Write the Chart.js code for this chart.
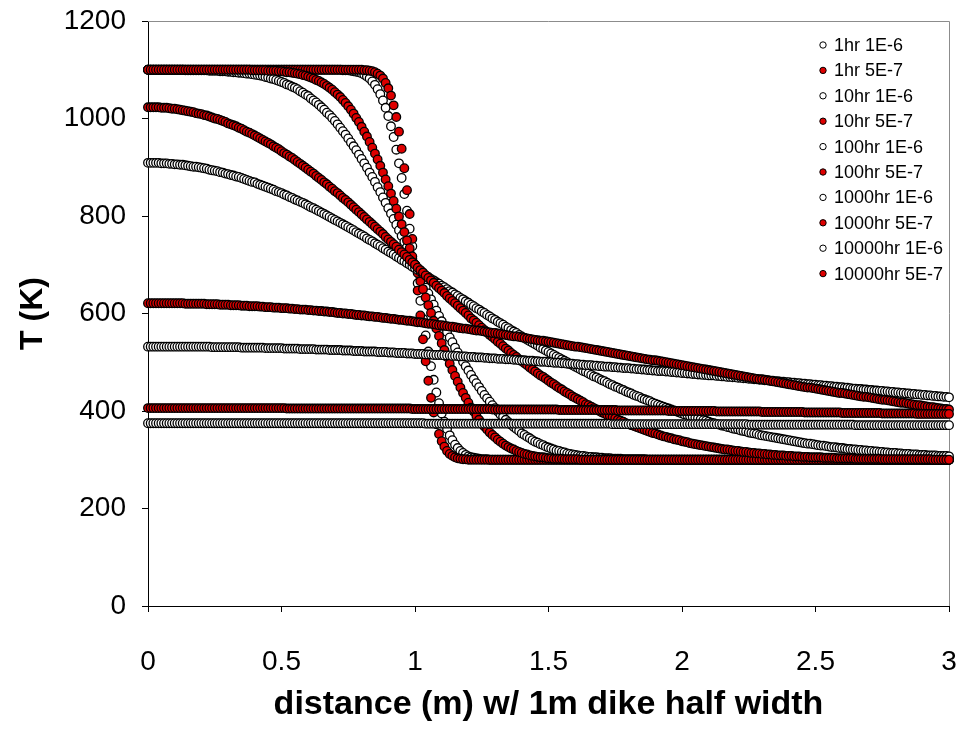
<!DOCTYPE html>
<html>
<head>
<meta charset="utf-8">
<title>Dike cooling profiles</title>
<script src="https://cdn.jsdelivr.net/npm/chart.js@4.4.1/dist/chart.umd.min.js"></script>
<style>
  body { margin: 0; background: #fff; }
  #wrap { width: 961px; height: 729px; }
</style>
</head>
<body>
<div id="wrap"><canvas id="chart" width="961" height="729"></canvas></div>
<script>
// distance from the dike centre (m), one sample every cm
var distance = [
  0, 0.01, 0.02, 0.03, 0.04, 0.05, 0.06, 0.07, 0.08, 0.09,
  0.1, 0.11, 0.12, 0.13, 0.14, 0.15, 0.16, 0.17, 0.18, 0.19,
  0.2, 0.21, 0.22, 0.23, 0.24, 0.25, 0.26, 0.27, 0.28, 0.29,
  0.3, 0.31, 0.32, 0.33, 0.34, 0.35, 0.36, 0.37, 0.38, 0.39,
  0.4, 0.41, 0.42, 0.43, 0.44, 0.45, 0.46, 0.47, 0.48, 0.49,
  0.5, 0.51, 0.52, 0.53, 0.54, 0.55, 0.56, 0.57, 0.58, 0.59,
  0.6, 0.61, 0.62, 0.63, 0.64, 0.65, 0.66, 0.67, 0.68, 0.69,
  0.7, 0.71, 0.72, 0.73, 0.74, 0.75, 0.76, 0.77, 0.78, 0.79,
  0.8, 0.81, 0.82, 0.83, 0.84, 0.85, 0.86, 0.87, 0.88, 0.89,
  0.9, 0.91, 0.92, 0.93, 0.94, 0.95, 0.96, 0.97, 0.98, 0.99,
  1, 1.01, 1.02, 1.03, 1.04, 1.05, 1.06, 1.07, 1.08, 1.09,
  1.1, 1.11, 1.12, 1.13, 1.14, 1.15, 1.16, 1.17, 1.18, 1.19,
  1.2, 1.21, 1.22, 1.23, 1.24, 1.25, 1.26, 1.27, 1.28, 1.29,
  1.3, 1.31, 1.32, 1.33, 1.34, 1.35, 1.36, 1.37, 1.38, 1.39,
  1.4, 1.41, 1.42, 1.43, 1.44, 1.45, 1.46, 1.47, 1.48, 1.49,
  1.5, 1.51, 1.52, 1.53, 1.54, 1.55, 1.56, 1.57, 1.58, 1.59,
  1.6, 1.61, 1.62, 1.63, 1.64, 1.65, 1.66, 1.67, 1.68, 1.69,
  1.7, 1.71, 1.72, 1.73, 1.74, 1.75, 1.76, 1.77, 1.78, 1.79,
  1.8, 1.81, 1.82, 1.83, 1.84, 1.85, 1.86, 1.87, 1.88, 1.89,
  1.9, 1.91, 1.92, 1.93, 1.94, 1.95, 1.96, 1.97, 1.98, 1.99,
  2, 2.01, 2.02, 2.03, 2.04, 2.05, 2.06, 2.07, 2.08, 2.09,
  2.1, 2.11, 2.12, 2.13, 2.14, 2.15, 2.16, 2.17, 2.18, 2.19,
  2.2, 2.21, 2.22, 2.23, 2.24, 2.25, 2.26, 2.27, 2.28, 2.29,
  2.3, 2.31, 2.32, 2.33, 2.34, 2.35, 2.36, 2.37, 2.38, 2.39,
  2.4, 2.41, 2.42, 2.43, 2.44, 2.45, 2.46, 2.47, 2.48, 2.49,
  2.5, 2.51, 2.52, 2.53, 2.54, 2.55, 2.56, 2.57, 2.58, 2.59,
  2.6, 2.61, 2.62, 2.63, 2.64, 2.65, 2.66, 2.67, 2.68, 2.69,
  2.7, 2.71, 2.72, 2.73, 2.74, 2.75, 2.76, 2.77, 2.78, 2.79,
  2.8, 2.81, 2.82, 2.83, 2.84, 2.85, 2.86, 2.87, 2.88, 2.89,
  2.9, 2.91, 2.92, 2.93, 2.94, 2.95, 2.96, 2.97, 2.98, 2.99,
  3
];

// temperature (K) after 1 hr, kappa = 1E-6
var hr1_1e6 = [
  1100, 1100, 1100, 1100, 1100, 1100, 1100, 1100, 1100, 1100,
  1100, 1100, 1100, 1100, 1100, 1100, 1100, 1100, 1100, 1100,
  1100, 1100, 1100, 1100, 1100, 1100, 1100, 1100, 1100, 1100,
  1100, 1100, 1100, 1100, 1100, 1100, 1100, 1100, 1100, 1100,
  1100, 1100, 1100, 1100, 1100, 1100, 1100, 1100, 1100, 1100,
  1100, 1100, 1100, 1100, 1100, 1100, 1100, 1100, 1100, 1100,
  1100, 1100, 1100, 1100, 1100, 1100, 1100, 1100, 1100, 1100,
  1100, 1100, 1100, 1099, 1099, 1099, 1098, 1097, 1096, 1095,
  1093, 1090, 1086, 1082, 1076, 1069, 1060, 1050, 1037, 1022,
  1005, 984, 962, 936, 908, 878, 845, 811, 774, 738,
  700, 662, 626, 589, 555, 522, 492, 464, 438, 416,
  395, 378, 363, 350, 340, 331, 324, 318, 314, 310,
  307, 305, 304, 303, 302, 301, 301, 301, 300, 300,
  300, 300, 300, 300, 300, 300, 300, 300, 300, 300,
  300, 300, 300, 300, 300, 300, 300, 300, 300, 300,
  300, 300, 300, 300, 300, 300, 300, 300, 300, 300,
  300, 300, 300, 300, 300, 300, 300, 300, 300, 300,
  300, 300, 300, 300, 300, 300, 300, 300, 300, 300,
  300, 300, 300, 300, 300, 300, 300, 300, 300, 300,
  300, 300, 300, 300, 300, 300, 300, 300, 300, 300,
  300, 300, 300, 300, 300, 300, 300, 300, 300, 300,
  300, 300, 300, 300, 300, 300, 300, 300, 300, 300,
  300, 300, 300, 300, 300, 300, 300, 300, 300, 300,
  300, 300, 300, 300, 300, 300, 300, 300, 300, 300,
  300, 300, 300, 300, 300, 300, 300, 300, 300, 300,
  300, 300, 300, 300, 300, 300, 300, 300, 300, 300,
  300, 300, 300, 300, 300, 300, 300, 300, 300, 300,
  300, 300, 300, 300, 300, 300, 300, 300, 300, 300,
  300, 300, 300, 300, 300, 300, 300, 300, 300, 300,
  300, 300, 300, 300, 300, 300, 300, 300, 300, 300,
  300
];

// 1 hr, kappa = 5E-7
var hr1_5e7 = [
  1100, 1100, 1100, 1100, 1100, 1100, 1100, 1100, 1100, 1100,
  1100, 1100, 1100, 1100, 1100, 1100, 1100, 1100, 1100, 1100,
  1100, 1100, 1100, 1100, 1100, 1100, 1100, 1100, 1100, 1100,
  1100, 1100, 1100, 1100, 1100, 1100, 1100, 1100, 1100, 1100,
  1100, 1100, 1100, 1100, 1100, 1100, 1100, 1100, 1100, 1100,
  1100, 1100, 1100, 1100, 1100, 1100, 1100, 1100, 1100, 1100,
  1100, 1100, 1100, 1100, 1100, 1100, 1100, 1100, 1100, 1100,
  1100, 1100, 1100, 1100, 1100, 1100, 1100, 1100, 1100, 1100,
  1100, 1099, 1099, 1098, 1097, 1095, 1092, 1088, 1082, 1073,
  1062, 1047, 1027, 1003, 973, 938, 898, 853, 804, 753,
  700, 647, 596, 547, 502, 462, 427, 397, 373, 353,
  338, 327, 318, 312, 308, 305, 303, 302, 301, 301,
  300, 300, 300, 300, 300, 300, 300, 300, 300, 300,
  300, 300, 300, 300, 300, 300, 300, 300, 300, 300,
  300, 300, 300, 300, 300, 300, 300, 300, 300, 300,
  300, 300, 300, 300, 300, 300, 300, 300, 300, 300,
  300, 300, 300, 300, 300, 300, 300, 300, 300, 300,
  300, 300, 300, 300, 300, 300, 300, 300, 300, 300,
  300, 300, 300, 300, 300, 300, 300, 300, 300, 300,
  300, 300, 300, 300, 300, 300, 300, 300, 300, 300,
  300, 300, 300, 300, 300, 300, 300, 300, 300, 300,
  300, 300, 300, 300, 300, 300, 300, 300, 300, 300,
  300, 300, 300, 300, 300, 300, 300, 300, 300, 300,
  300, 300, 300, 300, 300, 300, 300, 300, 300, 300,
  300, 300, 300, 300, 300, 300, 300, 300, 300, 300,
  300, 300, 300, 300, 300, 300, 300, 300, 300, 300,
  300, 300, 300, 300, 300, 300, 300, 300, 300, 300,
  300, 300, 300, 300, 300, 300, 300, 300, 300, 300,
  300, 300, 300, 300, 300, 300, 300, 300, 300, 300,
  300, 300, 300, 300, 300, 300, 300, 300, 300, 300,
  300
];

// 10 hr, kappa = 1E-6
var hr10_1e6 = [
  1100, 1100, 1100, 1100, 1100, 1100, 1100, 1100, 1100, 1100,
  1100, 1100, 1100, 1100, 1099, 1099, 1099, 1099, 1099, 1099,
  1099, 1099, 1099, 1098, 1098, 1098, 1098, 1097, 1097, 1097,
  1096, 1096, 1095, 1095, 1094, 1094, 1093, 1092, 1092, 1091,
  1090, 1089, 1088, 1087, 1085, 1084, 1082, 1081, 1079, 1077,
  1075, 1073, 1070, 1068, 1065, 1063, 1060, 1056, 1053, 1049,
  1046, 1041, 1037, 1033, 1028, 1023, 1018, 1012, 1007, 1001,
  995, 988, 981, 974, 967, 959, 951, 943, 935, 926,
  917, 908, 899, 889, 880, 870, 859, 849, 838, 827,
  816, 805, 794, 782, 771, 759, 747, 736, 724, 712,
  700, 688, 676, 664, 653, 641, 629, 618, 606, 595,
  584, 573, 562, 551, 541, 530, 520, 511, 501, 492,
  483, 474, 465, 457, 449, 441, 433, 426, 419, 412,
  406, 399, 393, 388, 382, 377, 372, 367, 363, 359,
  354, 351, 347, 344, 340, 337, 335, 332, 330, 327,
  325, 323, 321, 319, 318, 316, 315, 313, 312, 311,
  310, 309, 308, 308, 307, 306, 306, 305, 305, 304,
  304, 303, 303, 303, 302, 302, 302, 302, 301, 301,
  301, 301, 301, 301, 301, 301, 301, 300, 300, 300,
  300, 300, 300, 300, 300, 300, 300, 300, 300, 300,
  300, 300, 300, 300, 300, 300, 300, 300, 300, 300,
  300, 300, 300, 300, 300, 300, 300, 300, 300, 300,
  300, 300, 300, 300, 300, 300, 300, 300, 300, 300,
  300, 300, 300, 300, 300, 300, 300, 300, 300, 300,
  300, 300, 300, 300, 300, 300, 300, 300, 300, 300,
  300, 300, 300, 300, 300, 300, 300, 300, 300, 300,
  300, 300, 300, 300, 300, 300, 300, 300, 300, 300,
  300, 300, 300, 300, 300, 300, 300, 300, 300, 300,
  300, 300, 300, 300, 300, 300, 300, 300, 300, 300,
  300, 300, 300, 300, 300, 300, 300, 300, 300, 300,
  300
];

// 10 hr, kappa = 5E-7
var hr10_5e7 = [
  1100, 1100, 1100, 1100, 1100, 1100, 1100, 1100, 1100, 1100,
  1100, 1100, 1100, 1100, 1100, 1100, 1100, 1100, 1100, 1100,
  1100, 1100, 1100, 1100, 1100, 1100, 1100, 1100, 1100, 1100,
  1100, 1100, 1100, 1100, 1100, 1100, 1100, 1100, 1100, 1099,
  1099, 1099, 1099, 1099, 1099, 1098, 1098, 1098, 1098, 1097,
  1097, 1096, 1095, 1095, 1094, 1093, 1092, 1091, 1089, 1088,
  1086, 1084, 1082, 1079, 1077, 1074, 1071, 1067, 1063, 1059,
  1054, 1049, 1044, 1038, 1032, 1025, 1018, 1010, 1001, 993,
  983, 973, 963, 952, 940, 928, 916, 903, 889, 875,
  861, 846, 831, 815, 799, 783, 767, 750, 734, 717,
  700, 683, 666, 650, 633, 617, 601, 585, 569, 554,
  539, 525, 511, 497, 484, 472, 460, 448, 437, 427,
  417, 407, 399, 390, 382, 375, 368, 362, 356, 351,
  346, 341, 337, 333, 329, 326, 323, 321, 318, 316,
  314, 312, 311, 309, 308, 307, 306, 305, 305, 304,
  303, 303, 302, 302, 302, 302, 301, 301, 301, 301,
  301, 301, 300, 300, 300, 300, 300, 300, 300, 300,
  300, 300, 300, 300, 300, 300, 300, 300, 300, 300,
  300, 300, 300, 300, 300, 300, 300, 300, 300, 300,
  300, 300, 300, 300, 300, 300, 300, 300, 300, 300,
  300, 300, 300, 300, 300, 300, 300, 300, 300, 300,
  300, 300, 300, 300, 300, 300, 300, 300, 300, 300,
  300, 300, 300, 300, 300, 300, 300, 300, 300, 300,
  300, 300, 300, 300, 300, 300, 300, 300, 300, 300,
  300, 300, 300, 300, 300, 300, 300, 300, 300, 300,
  300, 300, 300, 300, 300, 300, 300, 300, 300, 300,
  300, 300, 300, 300, 300, 300, 300, 300, 300, 300,
  300, 300, 300, 300, 300, 300, 300, 300, 300, 300,
  300, 300, 300, 300, 300, 300, 300, 300, 300, 300,
  300, 300, 300, 300, 300, 300, 300, 300, 300, 300,
  300
];

// 100 hr, kappa = 1E-6
var hr100_1e6 = [
  909, 909, 909, 909, 909, 908, 908, 908, 907, 907,
  906, 906, 905, 905, 904, 903, 902, 901, 901, 900,
  899, 898, 897, 895, 894, 893, 892, 890, 889, 887,
  886, 884, 883, 881, 880, 878, 876, 874, 872, 870,
  869, 866, 864, 862, 860, 858, 856, 854, 851, 849,
  847, 844, 842, 839, 837, 834, 832, 829, 827, 824,
  821, 818, 816, 813, 810, 807, 804, 801, 798, 795,
  792, 789, 786, 783, 780, 777, 774, 771, 767, 764,
  761, 758, 754, 751, 748, 744, 741, 738, 734, 731,
  727, 724, 721, 717, 714, 710, 707, 703, 700, 696,
  693, 689, 686, 682, 678, 675, 671, 668, 664, 661,
  657, 654, 650, 646, 643, 639, 636, 632, 629, 625,
  622, 618, 615, 611, 608, 604, 601, 597, 594, 590,
  587, 583, 580, 577, 573, 570, 566, 563, 560, 556,
  553, 550, 546, 543, 540, 537, 534, 530, 527, 524,
  521, 518, 515, 512, 509, 506, 503, 500, 497, 494,
  491, 488, 485, 482, 480, 477, 474, 471, 469, 466,
  463, 461, 458, 455, 453, 450, 448, 445, 443, 440,
  438, 436, 433, 431, 429, 426, 424, 422, 420, 417,
  415, 413, 411, 409, 407, 405, 403, 401, 399, 397,
  395, 393, 392, 390, 388, 386, 385, 383, 381, 380,
  378, 376, 375, 373, 372, 370, 369, 367, 366, 364,
  363, 362, 360, 359, 358, 356, 355, 354, 353, 351,
  350, 349, 348, 347, 346, 345, 344, 343, 342, 341,
  340, 339, 338, 337, 336, 335, 334, 333, 333, 332,
  331, 330, 329, 329, 328, 327, 326, 326, 325, 324,
  324, 323, 322, 322, 321, 321, 320, 320, 319, 319,
  318, 318, 317, 317, 316, 316, 315, 315, 314, 314,
  314, 313, 313, 312, 312, 312, 311, 311, 311, 310,
  310, 310, 309, 309, 309, 309, 308, 308, 308, 308,
  307
];

// 100 hr, kappa = 5E-7
var hr100_5e7 = [
  1023, 1023, 1023, 1023, 1023, 1022, 1022, 1022, 1021, 1020,
  1020, 1019, 1018, 1017, 1016, 1015, 1014, 1013, 1011, 1010,
  1009, 1007, 1006, 1004, 1002, 1000, 999, 997, 995, 993,
  990, 988, 986, 984, 981, 979, 976, 973, 971, 968,
  965, 962, 959, 956, 953, 950, 947, 943, 940, 937,
  933, 929, 926, 922, 919, 915, 911, 907, 903, 899,
  895, 891, 887, 882, 878, 874, 869, 865, 860, 856,
  851, 847, 842, 837, 833, 828, 823, 818, 813, 808,
  803, 798, 793, 788, 783, 778, 773, 768, 763, 757,
  752, 747, 742, 737, 731, 726, 721, 716, 710, 705,
  700, 694, 689, 684, 678, 673, 668, 663, 657, 652,
  647, 642, 636, 631, 626, 621, 616, 611, 606, 601,
  596, 590, 586, 581, 576, 571, 566, 561, 556, 552,
  547, 542, 538, 533, 528, 524, 519, 515, 511, 506,
  502, 498, 494, 489, 485, 481, 477, 473, 470, 466,
  462, 458, 455, 451, 447, 444, 440, 437, 434, 430,
  427, 424, 421, 418, 414, 412, 409, 406, 403, 400,
  397, 395, 392, 390, 387, 385, 382, 380, 378, 375,
  373, 371, 369, 367, 365, 363, 361, 359, 357, 355,
  354, 352, 350, 348, 347, 345, 344, 342, 341, 340,
  338, 337, 336, 334, 333, 332, 331, 330, 329, 328,
  327, 326, 325, 324, 323, 322, 321, 321, 320, 319,
  318, 318, 317, 316, 316, 315, 314, 314, 313, 313,
  312, 312, 311, 311, 310, 310, 309, 309, 309, 308,
  308, 308, 307, 307, 307, 306, 306, 306, 305, 305,
  305, 305, 305, 304, 304, 304, 304, 304, 303, 303,
  303, 303, 303, 303, 303, 302, 302, 302, 302, 302,
  302, 302, 302, 302, 302, 301, 301, 301, 301, 301,
  301, 301, 301, 301, 301, 301, 301, 301, 301, 301,
  301, 301, 301, 301, 300, 300, 300, 300, 300, 300,
  300
];

// 1000 hr, kappa = 1E-6
var hr1000_1e6 = [
  532, 532, 532, 532, 532, 532, 532, 532, 532, 532,
  532, 532, 532, 532, 532, 532, 532, 532, 532, 532,
  532, 532, 532, 532, 531, 531, 531, 531, 531, 531,
  531, 531, 531, 531, 531, 530, 530, 530, 530, 530,
  530, 530, 530, 530, 529, 529, 529, 529, 529, 529,
  529, 528, 528, 528, 528, 528, 528, 527, 527, 527,
  527, 527, 527, 526, 526, 526, 526, 526, 525, 525,
  525, 525, 525, 524, 524, 524, 524, 523, 523, 523,
  523, 522, 522, 522, 522, 522, 521, 521, 521, 521,
  520, 520, 520, 519, 519, 519, 519, 518, 518, 518,
  517, 517, 517, 517, 516, 516, 516, 515, 515, 515,
  515, 514, 514, 514, 513, 513, 513, 512, 512, 512,
  511, 511, 511, 510, 510, 510, 509, 509, 508, 508,
  508, 507, 507, 507, 506, 506, 506, 505, 505, 504,
  504, 504, 503, 503, 503, 502, 502, 501, 501, 501,
  500, 500, 499, 499, 499, 498, 498, 497, 497, 497,
  496, 496, 495, 495, 494, 494, 494, 493, 493, 492,
  492, 491, 491, 491, 490, 490, 489, 489, 488, 488,
  488, 487, 487, 486, 486, 485, 485, 484, 484, 483,
  483, 482, 482, 482, 481, 481, 480, 480, 479, 479,
  478, 478, 477, 477, 476, 476, 475, 475, 474, 474,
  473, 473, 473, 472, 472, 471, 471, 470, 470, 469,
  469, 468, 468, 467, 467, 466, 466, 465, 465, 464,
  464, 463, 463, 462, 462, 461, 461, 460, 460, 459,
  459, 458, 458, 457, 457, 456, 456, 455, 455, 454,
  454, 453, 453, 452, 452, 451, 451, 450, 450, 449,
  449, 448, 448, 447, 446, 446, 445, 445, 444, 444,
  443, 443, 442, 442, 441, 441, 440, 440, 439, 439,
  438, 438, 437, 437, 436, 436, 435, 435, 434, 434,
  433, 433, 432, 432, 431, 431, 430, 430, 429, 429,
  428
];

// 1000 hr, kappa = 5E-7
var hr1000_5e7 = [
  621, 621, 621, 621, 621, 621, 621, 621, 621, 621,
  621, 621, 621, 621, 620, 620, 620, 620, 620, 620,
  620, 620, 619, 619, 619, 619, 619, 618, 618, 618,
  618, 617, 617, 617, 617, 616, 616, 616, 615, 615,
  615, 615, 614, 614, 613, 613, 613, 612, 612, 612,
  611, 611, 611, 610, 610, 609, 609, 608, 608, 608,
  607, 607, 606, 606, 605, 605, 604, 604, 603, 603,
  602, 601, 601, 600, 600, 599, 599, 598, 597, 597,
  596, 596, 595, 594, 594, 593, 593, 592, 591, 591,
  590, 589, 589, 588, 587, 587, 586, 585, 585, 584,
  583, 582, 582, 581, 580, 579, 579, 578, 577, 576,
  576, 575, 574, 573, 573, 572, 571, 570, 569, 569,
  568, 567, 566, 565, 565, 564, 563, 562, 561, 560,
  560, 559, 558, 557, 556, 555, 554, 553, 553, 552,
  551, 550, 549, 548, 547, 546, 545, 544, 544, 543,
  542, 541, 540, 539, 538, 537, 536, 535, 534, 533,
  532, 532, 531, 530, 529, 528, 527, 526, 525, 524,
  523, 522, 521, 520, 519, 518, 517, 516, 515, 514,
  513, 512, 511, 510, 509, 508, 507, 506, 505, 504,
  504, 503, 502, 501, 500, 499, 498, 497, 496, 495,
  494, 493, 492, 491, 490, 489, 488, 487, 486, 485,
  484, 483, 482, 481, 480, 479, 478, 477, 476, 475,
  474, 473, 472, 471, 470, 469, 468, 467, 466, 465,
  465, 464, 463, 462, 461, 460, 459, 458, 457, 456,
  455, 454, 453, 452, 451, 450, 449, 448, 448, 447,
  446, 445, 444, 443, 442, 441, 440, 439, 438, 437,
  437, 436, 435, 434, 433, 432, 431, 430, 429, 429,
  428, 427, 426, 425, 424, 423, 423, 422, 421, 420,
  419, 418, 417, 417, 416, 415, 414, 413, 412, 412,
  411, 410, 409, 408, 408, 407, 406, 405, 404, 404,
  403
];

// 10000 hr, kappa = 1E-6
var hr10000_1e6 = [
  375, 375, 375, 375, 375, 375, 375, 375, 375, 375,
  375, 375, 375, 375, 375, 375, 375, 375, 375, 375,
  375, 375, 375, 375, 375, 375, 375, 375, 375, 375,
  375, 375, 375, 375, 375, 375, 375, 375, 375, 375,
  375, 375, 375, 375, 375, 375, 375, 375, 375, 375,
  375, 375, 375, 375, 375, 375, 375, 375, 375, 375,
  375, 375, 375, 375, 375, 375, 375, 375, 375, 375,
  375, 375, 375, 375, 375, 375, 375, 375, 375, 375,
  375, 375, 375, 375, 375, 375, 375, 375, 375, 375,
  375, 375, 375, 375, 375, 375, 375, 375, 375, 375,
  375, 375, 375, 375, 374, 374, 374, 374, 374, 374,
  374, 374, 374, 374, 374, 374, 374, 374, 374, 374,
  374, 374, 374, 374, 374, 374, 374, 374, 374, 374,
  374, 374, 374, 374, 374, 374, 374, 374, 374, 374,
  374, 374, 374, 374, 374, 374, 374, 374, 374, 374,
  374, 374, 374, 374, 374, 374, 374, 374, 374, 374,
  374, 374, 374, 374, 374, 374, 374, 374, 374, 374,
  374, 374, 374, 374, 373, 373, 373, 373, 373, 373,
  373, 373, 373, 373, 373, 373, 373, 373, 373, 373,
  373, 373, 373, 373, 373, 373, 373, 373, 373, 373,
  373, 373, 373, 373, 373, 373, 373, 373, 373, 373,
  373, 373, 373, 373, 373, 373, 373, 373, 373, 373,
  373, 373, 373, 373, 373, 372, 372, 372, 372, 372,
  372, 372, 372, 372, 372, 372, 372, 372, 372, 372,
  372, 372, 372, 372, 372, 372, 372, 372, 372, 372,
  372, 372, 372, 372, 372, 372, 372, 372, 372, 372,
  372, 372, 372, 372, 372, 371, 371, 371, 371, 371,
  371, 371, 371, 371, 371, 371, 371, 371, 371, 371,
  371, 371, 371, 371, 371, 371, 371, 371, 371, 371,
  371, 371, 371, 371, 371, 371, 371, 371, 371, 371,
  371
];

// 10000 hr, kappa = 5E-7
var hr10000_5e7 = [
  406, 406, 406, 406, 406, 406, 406, 406, 406, 406,
  406, 406, 406, 406, 406, 406, 406, 406, 406, 406,
  406, 406, 406, 406, 406, 406, 406, 406, 406, 406,
  406, 406, 406, 406, 406, 406, 406, 406, 406, 406,
  406, 406, 406, 406, 406, 406, 406, 406, 406, 406,
  406, 406, 405, 405, 405, 405, 405, 405, 405, 405,
  405, 405, 405, 405, 405, 405, 405, 405, 405, 405,
  405, 405, 405, 405, 405, 405, 405, 405, 405, 405,
  405, 405, 405, 405, 405, 405, 405, 405, 405, 405,
  405, 405, 405, 405, 405, 405, 405, 405, 405, 404,
  404, 404, 404, 404, 404, 404, 404, 404, 404, 404,
  404, 404, 404, 404, 404, 404, 404, 404, 404, 404,
  404, 404, 404, 404, 404, 404, 404, 404, 404, 403,
  403, 403, 403, 403, 403, 403, 403, 403, 403, 403,
  403, 403, 403, 403, 403, 403, 403, 403, 403, 403,
  403, 403, 403, 403, 402, 402, 402, 402, 402, 402,
  402, 402, 402, 402, 402, 402, 402, 402, 402, 402,
  402, 402, 402, 402, 402, 402, 401, 401, 401, 401,
  401, 401, 401, 401, 401, 401, 401, 401, 401, 401,
  401, 401, 401, 401, 401, 400, 400, 400, 400, 400,
  400, 400, 400, 400, 400, 400, 400, 400, 400, 400,
  400, 400, 400, 399, 399, 399, 399, 399, 399, 399,
  399, 399, 399, 399, 399, 399, 399, 399, 399, 399,
  398, 398, 398, 398, 398, 398, 398, 398, 398, 398,
  398, 398, 398, 398, 398, 398, 397, 397, 397, 397,
  397, 397, 397, 397, 397, 397, 397, 397, 397, 397,
  396, 396, 396, 396, 396, 396, 396, 396, 396, 396,
  396, 396, 396, 396, 396, 395, 395, 395, 395, 395,
  395, 395, 395, 395, 395, 395, 395, 395, 394, 394,
  394, 394, 394, 394, 394, 394, 394, 394, 394, 394,
  394
];

var seriesNames = ['1hr 1E-6', '1hr 5E-7', '10hr 1E-6', '10hr 5E-7', '100hr 1E-6',
  '100hr 5E-7', '1000hr 1E-6', '1000hr 5E-7', '10000hr 1E-6', '10000hr 5E-7'];
var seriesValues = [hr1_1e6, hr1_5e7, hr10_1e6, hr10_5e7, hr100_1e6,
  hr100_5e7, hr1000_1e6, hr1000_5e7, hr10000_1e6, hr10000_5e7];

var WHITE = '#ffffff';
var RED = '#dd0000';
var FONT = 'Arial, "Liberation Sans", Helvetica, sans-serif';

function toPoints(values) {
  return values.map(function (t, i) {
    return { x: distance[i], y: t };
  });
}

var datasets = seriesValues.map(function (values, i) {
  return {
    label: seriesNames[i],
    data: toPoints(values),
    showLine: false,
    pointRadius: 4.3,
    pointHoverRadius: 4.3,
    pointBorderWidth: 1.3,
    pointBorderColor: '#000000',
    pointBackgroundColor: i % 2 === 0 ? WHITE : RED,
    clip: false,
    // later series sit on top of earlier ones
    order: seriesValues.length - i
  };
});

// grey frame on the top and right of the plot area
var plotFrame = {
  id: 'plotFrame',
  beforeDatasetsDraw: function (chart) {
    var a = chart.chartArea;
    var ctx = chart.ctx;
    ctx.save();
    ctx.strokeStyle = '#8c8c8c';
    ctx.lineWidth = 1;
    ctx.beginPath();
    ctx.moveTo(a.left, a.top + 0.5);
    ctx.lineTo(a.right + 0.5, a.top + 0.5);
    ctx.lineTo(a.right + 0.5, a.bottom);
    ctx.stroke();
    ctx.restore();
  }
};

// legend in the upper right corner of the plot
var cornerLegend = {
  id: 'cornerLegend',
  afterDatasetsDraw: function (chart) {
    var a = chart.chartArea;
    var ctx = chart.ctx;
    var x = a.right - 126;
    var y = a.top + 24;
    var step = 25.4;
    ctx.save();
    ctx.font = '18px ' + FONT;
    ctx.textBaseline = 'middle';
    ctx.textAlign = 'left';
    chart.data.datasets.forEach(function (ds, i) {
      var cy = y + i * step;
      ctx.beginPath();
      ctx.arc(x, cy, 3.2, 0, Math.PI * 2);
      ctx.fillStyle = ds.pointBackgroundColor;
      ctx.fill();
      ctx.lineWidth = 1;
      ctx.strokeStyle = '#000';
      ctx.stroke();
      ctx.fillStyle = '#000';
      ctx.fillText(ds.label, x + 11, cy + 1);
    });
    ctx.restore();
  }
};

function plainTick(value) {
  return String(value);
}

var ctx = document.getElementById('chart').getContext('2d');
var chart = new Chart(ctx, {
  type: 'scatter',
  data: { datasets: datasets },
  options: {
    responsive: false,
    devicePixelRatio: 1,
    animation: false,
    events: [],
    layout: { padding: { top: 21, right: 12, left: 0, bottom: 0 } },
    plugins: {
      legend: { display: false },
      tooltip: { enabled: false }
    },
    scales: {
      x: {
        type: 'linear',
        min: 0,
        max: 3,
        afterFit: function (scale) {
          scale.height = 123;
          scale.paddingLeft = 0;
          scale.paddingRight = 0;
        },
        ticks: {
          stepSize: 0.5,
          maxRotation: 0,
          color: '#000',
          padding: 33,
          callback: plainTick,
          font: { family: FONT, size: 28 }
        },
        grid: { drawOnChartArea: false, color: '#000', tickLength: 6 },
        border: { color: '#000', width: 1 },
        title: {
          display: true,
          text: 'distance (m) w/ 1m dike half width',
          color: '#000',
          padding: { top: 0, bottom: 4 },
          font: { family: FONT, size: 34, weight: 'bold' }
        }
      },
      y: {
        type: 'linear',
        min: 0,
        max: 1200,
        afterFit: function (scale) {
          scale.width = 148;
          scale.paddingTop = 0;
          scale.paddingBottom = 0;
        },
        ticks: {
          stepSize: 200,
          color: '#000',
          padding: 16,
          callback: plainTick,
          font: { family: FONT, size: 28 }
        },
        grid: { drawOnChartArea: false, color: '#000', tickLength: 6 },
        border: { color: '#000', width: 1 },
        title: {
          display: true,
          text: 'T (K)',
          color: '#000',
          padding: { top: 14, bottom: 0 },
          font: { family: FONT, size: 32, weight: 'bold' }
        }
      }
    }
  },
  plugins: [plotFrame, cornerLegend]
});
</script>
</body>
</html>
